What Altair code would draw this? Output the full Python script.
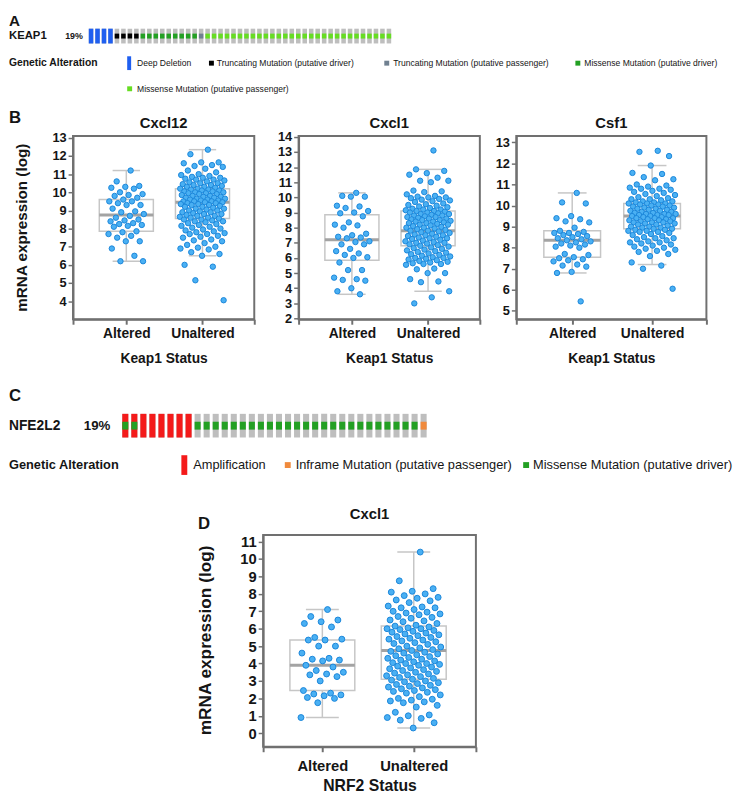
import altair as alt
import pandas as pd

FONT = "Liberation Sans"
FRAME = "#707070"
BOXC = "#c6c6c6"
MEDC = "#a3a3a3"
PFILL = "#4ab0f3"
PSTROKE = "#1b86d9"
TXT = "#151515"

# ---------------- Panel A / C oncoprint data (run-lengths per sample) ----------------
keap1_cna_labels = ["Deep Deletion", "None"]
keap1_cna_counts = [4, 43]
keap1_mut_labels = ["None", "Truncating Mutation (putative driver)", "Missense Mutation (putative driver)",
                    "Truncating Mutation (putative passenger)", "Missense Mutation (putative passenger)"]
keap1_mut_counts = [4, 4, 9, 1, 29]
keap1_pct = "19%"

nfe2l2_cna_labels = ["Amplification", "None"]
nfe2l2_cna_counts = [8, 26]
nfe2l2_mut_labels = ["Missense Mutation (putative driver)", "None", "Missense Mutation (putative driver)",
                     "Inframe Mutation (putative passenger)"]
nfe2l2_mut_counts = [2, 6, 25, 1]
nfe2l2_pct = "19%"

ALT_COLORS = {
    "Deep Deletion": "#1f5ff0",
    "Amplification": "#f41a1a",
    "Truncating Mutation (putative driver)": "#000000",
    "Truncating Mutation (putative passenger)": "#708090",
    "Missense Mutation (putative driver)": "#23a023",
    "Missense Mutation (putative passenger)": "#66dd22",
    "Inframe Mutation (putative passenger)": "#f08a3c",
}

# ---------------- Expression data (log mRNA) ----------------
cxcl12_altered = [11.2, 10.6, 10.35, 10.3, 10.25, 10.2, 10.0, 9.9, 9.85, 9.8, 9.7, 9.6, 9.5, 9.5, 9.4,
                  9.3, 9.3, 9.1, 8.95, 8.9, 8.8, 8.7, 8.6, 8.5, 8.45, 8.4, 8.3, 8.25, 8.2, 8.15, 8.1,
                  7.85, 7.8, 7.7, 7.6, 7.5, 7.3, 7.3, 6.9, 6.5, 6.2, 6.2]
cxcl12_unaltered = [12.35, 12.1, 11.65, 11.65, 11.6, 11.5, 11.45, 11.4, 11.3, 11.2, 11.1, 11.0, 10.95, 10.9,
                    10.85, 10.8, 10.8, 10.75, 10.7, 10.7, 10.65, 10.6, 10.55, 10.5, 10.5, 10.45, 10.4, 10.4,
                    10.35, 10.3, 10.3, 10.25, 10.2, 10.2, 10.15, 10.15, 10.1, 10.1, 10.05, 10.05, 10.0, 10.0,
                    9.95, 9.95, 9.9, 9.9, 9.85, 9.8, 9.8, 9.75, 9.75, 9.7, 9.7, 9.65, 9.65, 9.6, 9.6, 9.55,
                    9.55, 9.5, 9.5, 9.5, 9.45, 9.45, 9.4, 9.4, 9.35, 9.35, 9.3, 9.3, 9.25, 9.2, 9.2, 9.15,
                    9.1, 9.1, 9.05, 9.0, 9.0, 8.95, 8.9, 8.9, 8.85, 8.8, 8.8, 8.75, 8.7, 8.7, 8.65, 8.6, 8.6,
                    8.55, 8.5, 8.5, 8.45, 8.4, 8.4, 8.35, 8.3, 8.25, 8.2, 8.15, 8.1, 8.05, 8.0, 7.95, 7.9,
                    7.85, 7.8, 7.75, 7.7, 7.7, 7.6, 7.55, 7.5, 7.4, 7.35, 7.3, 7.2, 7.1, 7.0, 6.95, 6.9,
                    6.85, 6.7, 6.6, 6.5, 6.0, 5.9, 5.15, 4.05]
cxcl12_stats = {"lo": [6.2, 6.5], "q1": [7.85, 8.55], "med": [8.75, 9.45], "q3": [9.6, 10.2], "hi": [11.2, 12.35]}

cxcl1_altered = [10.3, 10.1, 10.05, 10.05, 9.45, 9.4, 9.3, 9.1, 9.0, 8.95, 8.75, 8.35, 8.2, 8.15, 8.0, 7.6,
                 7.5, 7.4, 7.35, 7.3, 7.1, 7.05, 6.9, 6.9, 6.6, 6.45, 6.3, 6.2, 6.05, 6.0, 5.7, 5.2, 5.2,
                 4.7, 4.6, 4.55, 4.5, 4.0, 3.8, 3.6]
cxcl1_unaltered = [13.1, 11.85, 11.75, 11.6, 11.5, 11.3, 11.1, 11.1, 11.0, 10.45, 10.4, 10.35, 10.2, 10.1,
                   10.05, 10.0, 10.0, 9.95, 9.9, 9.85, 9.8, 9.75, 9.7, 9.6, 9.55, 9.5, 9.45, 9.4, 9.35, 9.3,
                   9.25, 9.2, 9.2, 9.15, 9.1, 9.1, 9.05, 9.0, 9.0, 8.95, 8.9, 8.9, 8.85, 8.8, 8.8, 8.75, 8.7,
                   8.7, 8.65, 8.6, 8.6, 8.55, 8.5, 8.5, 8.45, 8.4, 8.4, 8.35, 8.3, 8.3, 8.25, 8.2, 8.2, 8.15,
                   8.1, 8.05, 8.0, 8.0, 7.95, 7.9, 7.85, 7.8, 7.8, 7.75, 7.7, 7.65, 7.6, 7.55, 7.5, 7.5, 7.45,
                   7.4, 7.35, 7.3, 7.3, 7.25, 7.2, 7.15, 7.1, 7.05, 7.0, 7.0, 6.95, 6.9, 6.85, 6.8, 6.75, 6.7,
                   6.65, 6.6, 6.55, 6.5, 6.45, 6.4, 6.35, 6.3, 6.25, 6.2, 6.15, 6.1, 6.05, 6.0, 6.0, 5.95,
                   5.9, 5.85, 5.8, 5.75, 5.7, 5.65, 5.6, 5.6, 5.55, 5.3, 5.25, 5.0, 5.0, 4.6, 4.45, 4.4,
                   3.8, 3.4, 3.0]
cxcl1_stats = {"lo": [3.6, 3.8], "q1": [5.85, 6.8], "med": [7.2, 7.8], "q3": [8.85, 9.1], "hi": [10.3, 11.85]}

csf1_altered = [10.6, 10.15, 10.1, 9.5, 9.4, 9.35, 9.25, 9.2, 8.95, 8.8, 8.75, 8.7, 8.7, 8.65, 8.6, 8.55,
                8.5, 8.45, 8.4, 8.35, 8.3, 8.25, 8.2, 8.15, 8.1, 8.05, 8.0, 7.7, 7.65, 7.55, 7.5, 7.45, 7.4,
                7.35, 7.2, 7.15, 7.1, 6.85, 6.8, 5.45]
csf1_unaltered = [12.6, 12.55, 12.35, 11.9, 11.55, 11.5, 11.35, 11.25, 11.2, 11.0, 10.95, 10.9, 10.85, 10.8,
                  10.8, 10.75, 10.7, 10.65, 10.6, 10.55, 10.5, 10.45, 10.4, 10.35, 10.3, 10.3, 10.25, 10.2,
                  10.2, 10.15, 10.15, 10.1, 10.1, 10.1, 10.05, 10.05, 10.0, 10.0, 9.95, 9.95, 9.9, 9.9, 9.85,
                  9.85, 9.8, 9.8, 9.75, 9.75, 9.7, 9.7, 9.65, 9.65, 9.6, 9.6, 9.6, 9.55, 9.55, 9.55, 9.5, 9.5,
                  9.45, 9.45, 9.4, 9.4, 9.4, 9.35, 9.35, 9.3, 9.3, 9.25, 9.25, 9.2, 9.2, 9.2, 9.15, 9.15, 9.1,
                  9.1, 9.05, 9.0, 9.0, 8.95, 8.95, 8.9, 8.9, 8.85, 8.85, 8.8, 8.8, 8.75, 8.75, 8.7, 8.65, 8.6,
                  8.55, 8.5, 8.45, 8.45, 8.4, 8.35, 8.3, 8.25, 8.25, 8.2, 8.15, 8.1, 8.05, 8.0, 7.95, 7.9,
                  7.85, 7.8, 7.7, 7.6, 7.3, 7.15, 7.0, 6.05]
csf1_stats = {"lo": [6.8, 7.2], "q1": [7.55, 8.9], "med": [8.35, 9.5], "q3": [8.8, 10.1], "hi": [10.6, 11.9]}

nrf2_cxcl1_altered = [7.1, 6.7, 6.5, 6.4, 6.3, 6.1, 5.5, 5.4, 5.35, 5.35, 5.0, 5.0, 4.6, 4.3, 4.25, 4.2,
                      4.15, 3.9, 3.8, 3.6, 3.5, 3.4, 3.35, 3.25, 3.0, 2.45, 2.3, 2.25, 2.2, 2.15, 2.05, 2.0,
                      1.75, 0.9]
nrf2_cxcl1_unaltered = [10.4, 8.75, 8.3, 8.15, 8.1, 8.0, 7.9, 7.8, 7.75, 7.65, 7.6, 7.5, 7.3, 7.25, 7.2, 7.2,
                        7.1, 7.0, 6.95, 6.9, 6.85, 6.8, 6.7, 6.65, 6.6, 6.5, 6.45, 6.4, 6.3, 6.2, 6.15, 6.1,
                        6.05, 6.0, 6.0, 5.95, 5.9, 5.85, 5.8, 5.75, 5.7, 5.65, 5.6, 5.55, 5.5, 5.45, 5.4, 5.35,
                        5.3, 5.25, 5.2, 5.15, 5.1, 5.0, 4.95, 4.9, 4.85, 4.8, 4.75, 4.7, 4.65, 4.6, 4.55, 4.5,
                        4.45, 4.4, 4.35, 4.3, 4.25, 4.2, 4.15, 4.1, 4.05, 4.0, 4.0, 3.95, 3.9, 3.85, 3.8, 3.75,
                        3.7, 3.65, 3.6, 3.55, 3.5, 3.45, 3.4, 3.35, 3.3, 3.25, 3.2, 3.15, 3.1, 3.05, 3.0, 2.95,
                        2.9, 2.85, 2.8, 2.75, 2.7, 2.65, 2.6, 2.55, 2.5, 2.45, 2.4, 2.35, 2.3, 2.2, 2.1, 2.0,
                        1.95, 1.9, 1.85, 1.8, 1.75, 1.6, 1.5, 1.2, 1.05, 1.0, 0.9, 0.85, 0.75, 0.6, 0.3]
nrf2_stats = {"lo": [0.9, 0.3], "q1": [2.45, 3.1], "med": [3.9, 4.75], "q3": [5.35, 6.15], "hi": [7.1, 10.4]}

cxcl12_yticks = [4, 5, 6, 7, 8, 9, 10, 11, 12, 13]
cxcl1_yticks = [2, 3, 4, 5, 6, 7, 8, 9, 10, 11, 12, 13, 14]
csf1_yticks = [5, 6, 7, 8, 9, 10, 11, 12, 13]
nrf2_yticks = [0, 1, 2, 3, 4, 5, 6, 7, 8, 9, 10, 11]

YTITLE = "mRNA expression (log)"

# ---------------- helpers ----------------
one = pd.DataFrame({"k": [0]})


def expand(labels, counts):
    out = []
    for lab, c in zip(labels, counts):
        out += [lab] * c
    return out


def label(text, x, y, size, bold=False, baseline="middle", align="left", angle=0, color=TXT):
    return alt.Chart(one).mark_text(
        text=text, align=align, baseline=baseline, fontSize=size, angle=angle,
        fontWeight="bold" if bold else "normal", font=FONT, color=color
    ).encode(x=alt.value(x), y=alt.value(y))


def swatch(x0, x1, y0, y1, color):
    return alt.Chart(one).mark_rect(color=color).encode(
        x=alt.value(x0), x2=alt.value(x1), y=alt.value(y0), y2=alt.value(y1))


def spacer(w, h):
    return alt.Chart(one).mark_point(opacity=0).encode(
        x=alt.value(0), y=alt.value(0)).properties(width=w, height=h)


def oncoprint(cna, mut, x_range, y0, y1, m0, m1, pad):
    df = pd.DataFrame({"i": list(range(len(cna))), "cna": cna, "mut": mut})
    xs = alt.X("i:O", scale=alt.Scale(domain=list(range(len(cna))), range=x_range,
                                      paddingInner=pad, paddingOuter=0), axis=None)
    base = alt.Chart(df)
    layers = [base.mark_rect(color="#bebebe").encode(x=xs, y=alt.value(y0), y2=alt.value(y1))]
    for t in sorted(set(cna) - {"None"}):
        layers.append(base.transform_filter(alt.datum.cna == t).mark_rect(color=ALT_COLORS[t])
                      .encode(x=xs, y=alt.value(y0), y2=alt.value(y1)))
    for t in sorted(set(mut) - {"None"}):
        layers.append(base.transform_filter(alt.datum.mut == t).mark_rect(color=ALT_COLORS[t])
                      .encode(x=xs, y=alt.value(m0), y2=alt.value(m1)))
    return layers


def expr_panel(altered, unaltered, stats, ydom, yticks, xdom, w, h, xtitle,
               fs_lab_y, fs_lab_x, fs_title_x, psize, lab_pad, title_pad, extra):
    pts_df = pd.DataFrame({"grp": [1] * len(altered) + [2] * len(unaltered), "val": altered + unaltered})
    st = pd.DataFrame({"grp": [1, 2], **stats})
    xaxis = alt.Axis(values=[xdom[0], 1, 2, xdom[1]],
                     labelExpr="datum.value == 1 ? 'Altered' : (datum.value == 2 ? 'Unaltered' : '')",
                     title=xtitle, tickSize=5, tickWidth=2, tickColor=FRAME, domainColor=FRAME,
                     domainWidth=2, labelFontSize=fs_lab_x, labelFontWeight="bold", labelColor=TXT,
                     labelPadding=lab_pad, titleFontSize=fs_title_x, titleFontWeight="bold", titleColor=TXT,
                     titlePadding=title_pad, grid=False, labelOverlap=False, labelFlush=False,
                     labelFont=FONT, titleFont=FONT)
    yaxis = alt.Axis(values=yticks, tickSize=5, tickWidth=1.5, tickColor=FRAME, domainColor=FRAME,
                     domainWidth=2, labelFontSize=fs_lab_y, labelFontWeight="bold", labelColor=TXT,
                     labelPadding=2, title=None, grid=False, labelOverlap=False, labelFont=FONT)

    def X(f):
        return alt.X(f, type="quantitative", scale=alt.Scale(domain=xdom, nice=False, zero=False), axis=xaxis)

    def Y(f):
        return alt.Y(f, type="quantitative", scale=alt.Scale(domain=ydom, nice=False, zero=False), axis=yaxis)

    sb = alt.Chart(st).transform_calculate(
        xl="datum.grp - 0.355", xr="datum.grp + 0.355", cl="datum.grp - 0.18", cr="datum.grp + 0.18")
    layers = [
        sb.mark_rule(color=BOXC, strokeWidth=1.5).encode(x=X("grp"), y=Y("lo"), y2="q1"),
        sb.mark_rule(color=BOXC, strokeWidth=1.5).encode(x=X("grp"), y=Y("q3"), y2="hi"),
        sb.mark_rule(color=BOXC, strokeWidth=1.5).encode(x=X("cl"), x2="cr", y=Y("lo")),
        sb.mark_rule(color=BOXC, strokeWidth=1.5).encode(x=X("cl"), x2="cr", y=Y("hi")),
        sb.mark_rect(fill="white", fillOpacity=0, stroke=BOXC, strokeWidth=1.5).encode(
            x=X("xl"), x2="xr", y=Y("q1"), y2="q3"),
        sb.mark_rule(color=MEDC, strokeWidth=3).encode(x=X("xl"), x2="xr", y=Y("med")),
        alt.Chart(pts_df).transform_window(rn="row_number()", groupby=["grp"]).transform_calculate(
            xj="datum.grp + ((datum.rn * 0.6180339887) % 1 - 0.5) * 2 * (datum.grp == 1 ? 0.24 : 0.3)"
        ).mark_circle(size=psize, fill=PFILL, stroke=PSTROKE, strokeWidth=1, opacity=1).encode(
            x=X("xj"), y=Y("val")),
    ]
    layers += extra
    return alt.layer(*layers).properties(
        width=w, height=h, view=alt.ViewBackground(stroke=FRAME, strokeWidth=2))


# Layout origin: page (73, 8); local coords below are relative to it.

# ---------------- Row A ----------------
keap1_cna = expand(keap1_cna_labels, keap1_cna_counts)
keap1_mut = expand(keap1_mut_labels, keap1_mut_counts)
rowA_layers = oncoprint(keap1_cna, keap1_mut, [16, 323], 15, 30, 20, 25, 0.3)
rowA_layers += [
    label("A", -65, 0, 15.5, True, baseline="top"),
    label("KEAP1", -65, 22, 11.5, True),
    label(keap1_pct, -8, 22, 9, True),
    label("Genetic Alteration", -65, 50, 10.5, True),
    swatch(55, 59, 43, 57, ALT_COLORS["Deep Deletion"]),
    label("Deep Deletion", 65, 50, 8.7),
    swatch(138, 143, 47.5, 52.5, ALT_COLORS["Truncating Mutation (putative driver)"]),
    label("Truncating Mutation (putative driver)", 146, 50, 8.7),
    swatch(316, 321, 47.5, 52.5, ALT_COLORS["Truncating Mutation (putative passenger)"]),
    label("Truncating Mutation (putative passenger)", 325, 50, 8.7),
    swatch(510, 515, 47.5, 52.5, ALT_COLORS["Missense Mutation (putative driver)"]),
    label("Missense Mutation (putative driver)", 519, 50, 8.7),
    swatch(55, 60, 73.5, 78.5, ALT_COLORS["Missense Mutation (putative passenger)"]),
    label("Missense Mutation (putative passenger)", 65, 76, 8.7),
]
rowA = alt.layer(*rowA_layers).properties(width=640, height=124)

# ---------------- Row B ----------------
XDOM_B = [0.3, 2.68]
p1 = expr_panel(cxcl12_altered, cxcl12_unaltered, cxcl12_stats, [3.0, 13.1], cxcl12_yticks,
                XDOM_B, 184, 186, "Keap1 Status", 13, 14, 14, 30, 2, 12,
                [label("B", -65, -13, 17, True, baseline="alphabetic"),
                 label("Cxcl12", 92, -8, 15, True, baseline="alphabetic", align="center"),
                 label(YTITLE, -52, 93, 15.5, True, align="center", angle=270)])
p2 = expr_panel(cxcl1_altered, cxcl1_unaltered, cxcl1_stats, [1.95, 14.05], cxcl1_yticks,
                XDOM_B, 184, 186, "Keap1 Status", 13, 14, 14, 30, 2, 12,
                [label("Cxcl1", 92, -8, 15, True, baseline="alphabetic", align="center")])
p3 = expr_panel(csf1_altered, csf1_unaltered, csf1_stats, [4.6, 13.3], csf1_yticks,
                XDOM_B, 193, 186, "Keap1 Status", 13, 14, 14, 30, 2, 12,
                [label("Csf1", 96.5, -8, 15, True, baseline="alphabetic", align="center")])
rowB = alt.hconcat(p1, spacer(45, 1), p2, spacer(37, 1), p3, spacing=0, bounds="flush")

# ---------------- Row C ----------------
nfe_cna = expand(nfe2l2_cna_labels, nfe2l2_cna_counts)
nfe_mut = expand(nfe2l2_mut_labels, nfe2l2_mut_counts)
rowC_layers = oncoprint(nfe_cna, nfe_mut, [50, 359], 92, 116, 100, 108, 0.33)
rowC_layers += [
    label("C", -65, 79, 17, True, baseline="alphabetic"),
    label("NFE2L2", -65, 104, 14, True),
    label(nfe2l2_pct, 11, 104, 13.5, True),
    label("Genetic Alteration", -65, 144, 13, True),
    swatch(110, 116, 134, 154, ALT_COLORS["Amplification"]),
    label("Amplification", 122, 144, 13),
    swatch(215, 221, 141, 147, ALT_COLORS["Inframe Mutation (putative passenger)"]),
    label("Inframe Mutation (putative passenger)", 226, 144, 13),
    swatch(457, 463, 141, 147, ALT_COLORS["Missense Mutation (putative driver)"]),
    label("Missense Mutation (putative driver)", 467, 144, 13),
]
rowC = alt.layer(*rowC_layers).properties(width=600, height=215)

# ---------------- Row D ----------------
pD = expr_panel(nrf2_cxcl1_altered, nrf2_cxcl1_unaltered, nrf2_stats, [-0.78, 11.38], nrf2_yticks,
                [0.352, 2.68], 216, 215, "NRF2 Status", 15, 15, 16, 36, 7, 4,
                [label("D", -66, -6, 17, True, baseline="alphabetic"),
                 label("Cxcl1", 108, -16, 15, True, baseline="alphabetic", align="center"),
                 label(YTITLE, -58, 107, 17.5, True, align="center", angle=270)])
rowD = alt.hconcat(spacer(193, 1), pD, spacing=0, bounds="flush")

chart = alt.vconcat(rowA, rowB, spacer(1, 190), rowC, rowD, spacing=0, bounds="flush").properties(
    padding=0).configure(font=FONT, view=alt.ViewConfig(strokeWidth=0))

chart.save("out.html", embed_options={"renderer": "svg", "actions": False})
